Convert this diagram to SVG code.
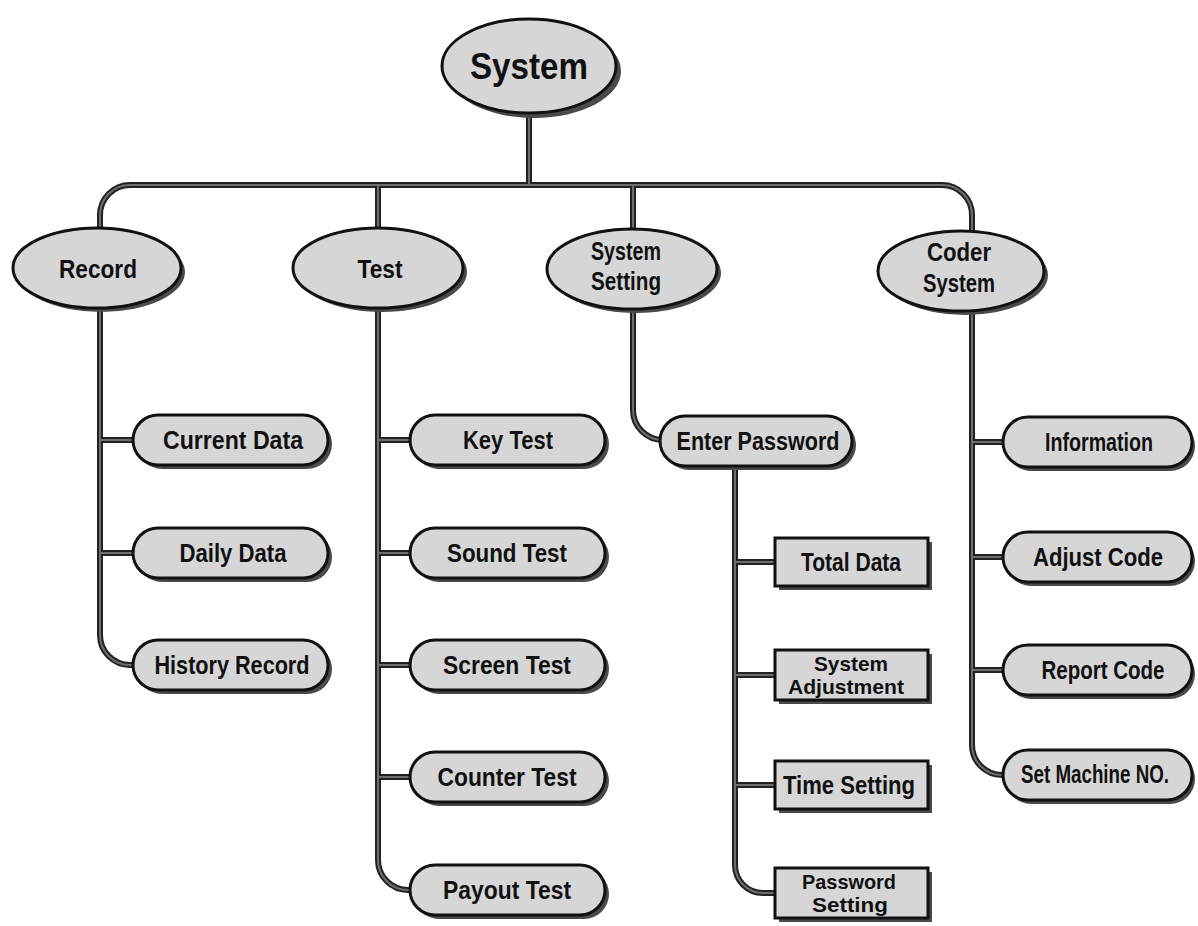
<svg xmlns="http://www.w3.org/2000/svg" width="1198" height="926" viewBox="0 0 1198 926">
<style>
.sh{fill:#4a4a4a}
.nd{fill:#d6d6d6;stroke:#111;stroke-width:3}
.ln{fill:none;stroke:#222;stroke-width:6;stroke-linecap:butt}
.ln2{fill:none;stroke:#6e6e6e;stroke-width:2}
.t{font-family:"Liberation Sans",Arial,sans-serif;font-weight:bold;fill:#111;text-anchor:middle;font-size:25px}
.ts{font-size:21px}
.tt{font-size:36px}
</style>
<rect width="1198" height="926" fill="#fff"/>
<g id="connectors">
<path class="ln" d="M529 112 V185 M100 230 V215 A30 30 0 0 1 130 185 H942 A30 30 0 0 1 972 215 V232 M378 185 V230 M633 185 V231"/>
<path class="ln" d="M100 306 V635 A30 30 0 0 0 130 665 H136 M100 440 H136 M100 553 H136"/>
<path class="ln" d="M378 306 V860 A30 30 0 0 0 408 890 H413 M378 440 H413 M378 553 H413 M378 665 H413 M378 777 H413"/>
<path class="ln" d="M633 307 V410 A30 30 0 0 0 663 440"/>
<path class="ln" d="M735 465 V865 A28 28 0 0 0 763 893 H776 M735 562 H776 M735 675 H776 M735 785 H776"/>
<path class="ln" d="M972 309 V745 A30 30 0 0 0 1002 775 H1006 M972 442 H1006 M972 557 H1006 M972 670 H1006"/>
<path class="ln2" d="M529 112 V185 M100 230 V215 A30 30 0 0 1 130 185 H942 A30 30 0 0 1 972 215 V232 M378 185 V230 M633 185 V231 M100 306 V635 A30 30 0 0 0 130 665 H136 M100 440 H136 M100 553 H136 M378 306 V860 A30 30 0 0 0 408 890 H413 M378 440 H413 M378 553 H413 M378 665 H413 M378 777 H413 M633 307 V410 A30 30 0 0 0 663 440 M735 465 V865 A28 28 0 0 0 763 893 H776 M735 562 H776 M735 675 H776 M735 785 H776 M972 309 V745 A30 30 0 0 0 1002 775 H1006 M972 442 H1006 M972 557 H1006 M972 670 H1006"/>
</g>
<g id="system">
<ellipse class="sh" cx="534" cy="71" rx="87" ry="47"/>
<ellipse class="nd" cx="529" cy="66" rx="87" ry="47"/>
<text class="t tt" x="529" y="79" textLength="118" lengthAdjust="spacingAndGlyphs">System</text>
</g>
<g id="record">
<ellipse class="sh" cx="101" cy="272" rx="84" ry="40"/>
<ellipse class="nd" cx="97" cy="268" rx="84" ry="40"/>
<text class="t" x="98" y="278" textLength="78" lengthAdjust="spacingAndGlyphs">Record</text>
</g>
<g id="test">
<ellipse class="sh" cx="382" cy="272" rx="85" ry="40"/>
<ellipse class="nd" cx="378" cy="268" rx="85" ry="40"/>
<text class="t" x="380" y="278" textLength="45" lengthAdjust="spacingAndGlyphs">Test</text>
</g>
<g id="system-setting">
<ellipse class="sh" cx="636" cy="273" rx="85" ry="40"/>
<ellipse class="nd" cx="632" cy="269" rx="85" ry="40"/>
<text class="t" x="626" y="260" textLength="70" lengthAdjust="spacingAndGlyphs">System</text>
<text class="t" x="626" y="290" textLength="70" lengthAdjust="spacingAndGlyphs">Setting</text>
</g>
<g id="coder-system">
<ellipse class="sh" cx="965" cy="275" rx="83" ry="40"/>
<ellipse class="nd" cx="961" cy="271" rx="83" ry="40"/>
<text class="t" x="959" y="261" textLength="64" lengthAdjust="spacingAndGlyphs">Coder</text>
<text class="t" x="959" y="292" textLength="72" lengthAdjust="spacingAndGlyphs">System</text>
</g>
<g id="current-data"><rect class="sh" x="137" y="419" width="195" height="50" rx="25"/><rect class="nd" x="133" y="415" width="195" height="50" rx="25"/><text class="t" x="233" y="449" textLength="140" lengthAdjust="spacingAndGlyphs">Current Data</text></g>
<g id="daily-data"><rect class="sh" x="137" y="532" width="195" height="50" rx="25"/><rect class="nd" x="133" y="528" width="195" height="50" rx="25"/><text class="t" x="233" y="562" textLength="107" lengthAdjust="spacingAndGlyphs">Daily Data</text></g>
<g id="history-record"><rect class="sh" x="137" y="644" width="195" height="50" rx="25"/><rect class="nd" x="133" y="640" width="195" height="50" rx="25"/><text class="t" x="232" y="674" textLength="155" lengthAdjust="spacingAndGlyphs">History Record</text></g>
<g id="key-test"><rect class="sh" x="414" y="419" width="195" height="50" rx="25"/><rect class="nd" x="410" y="415" width="195" height="50" rx="25"/><text class="t" x="508" y="449" textLength="90" lengthAdjust="spacingAndGlyphs">Key Test</text></g>
<g id="sound-test"><rect class="sh" x="414" y="532" width="195" height="50" rx="25"/><rect class="nd" x="410" y="528" width="195" height="50" rx="25"/><text class="t" x="507" y="562" textLength="120" lengthAdjust="spacingAndGlyphs">Sound Test</text></g>
<g id="screen-test"><rect class="sh" x="414" y="644" width="195" height="50" rx="25"/><rect class="nd" x="410" y="640" width="195" height="50" rx="25"/><text class="t" x="507" y="674" textLength="128" lengthAdjust="spacingAndGlyphs">Screen Test</text></g>
<g id="counter-test"><rect class="sh" x="414" y="756" width="195" height="50" rx="25"/><rect class="nd" x="410" y="752" width="195" height="50" rx="25"/><text class="t" x="507" y="786" textLength="139" lengthAdjust="spacingAndGlyphs">Counter Test</text></g>
<g id="payout-test"><rect class="sh" x="414" y="869" width="195" height="50" rx="25"/><rect class="nd" x="410" y="865" width="195" height="50" rx="25"/><text class="t" x="507" y="899" textLength="128" lengthAdjust="spacingAndGlyphs">Payout Test</text></g>
<g id="enter-password"><rect class="sh" x="664" y="420" width="192" height="50" rx="25"/><rect class="nd" x="660" y="416" width="192" height="50" rx="25"/><text class="t" x="758" y="450" textLength="163" lengthAdjust="spacingAndGlyphs">Enter Password</text></g>
<g id="total-data"><rect class="sh" x="779" y="542" width="153" height="48"/><rect class="nd" x="775" y="538" width="153" height="48"/><text class="t" x="851" y="571" textLength="100" lengthAdjust="spacingAndGlyphs">Total Data</text></g>
<g id="system-adjustment"><rect class="sh" x="779" y="654" width="153" height="50"/><rect class="nd" x="775" y="650" width="153" height="50"/><text class="t ts" x="851" y="671" textLength="74" lengthAdjust="spacingAndGlyphs">System</text><text class="t ts" x="846" y="694" textLength="116" lengthAdjust="spacingAndGlyphs">Adjustment</text></g>
<g id="time-setting"><rect class="sh" x="779" y="765" width="153" height="48"/><rect class="nd" x="775" y="761" width="153" height="48"/><text class="t" x="849" y="794" textLength="132" lengthAdjust="spacingAndGlyphs">Time Setting</text></g>
<g id="password-setting"><rect class="sh" x="779" y="872" width="153" height="50"/><rect class="nd" x="775" y="868" width="153" height="50"/><text class="t ts" x="849" y="889" textLength="94" lengthAdjust="spacingAndGlyphs">Password</text><text class="t ts" x="850" y="912" textLength="76" lengthAdjust="spacingAndGlyphs">Setting</text></g>
<g id="information"><rect class="sh" x="1006" y="421" width="189" height="50" rx="25"/><rect class="nd" x="1003" y="417" width="189" height="50" rx="25"/><text class="t" x="1099" y="451" textLength="108" lengthAdjust="spacingAndGlyphs">Information</text></g>
<g id="adjust-code"><rect class="sh" x="1006" y="536" width="189" height="50" rx="25"/><rect class="nd" x="1003" y="532" width="189" height="50" rx="25"/><text class="t" x="1098" y="566" textLength="130" lengthAdjust="spacingAndGlyphs">Adjust Code</text></g>
<g id="report-code"><rect class="sh" x="1006" y="649" width="189" height="50" rx="25"/><rect class="nd" x="1003" y="645" width="189" height="50" rx="25"/><text class="t" x="1103" y="679" textLength="123" lengthAdjust="spacingAndGlyphs">Report Code</text></g>
<g id="set-machine-no"><rect class="sh" x="1006" y="754" width="189" height="50" rx="25"/><rect class="nd" x="1003" y="750" width="189" height="50" rx="25"/><text class="t" x="1095" y="783" font-size="21" textLength="148" lengthAdjust="spacingAndGlyphs">Set Machine NO.</text></g>
</svg>
